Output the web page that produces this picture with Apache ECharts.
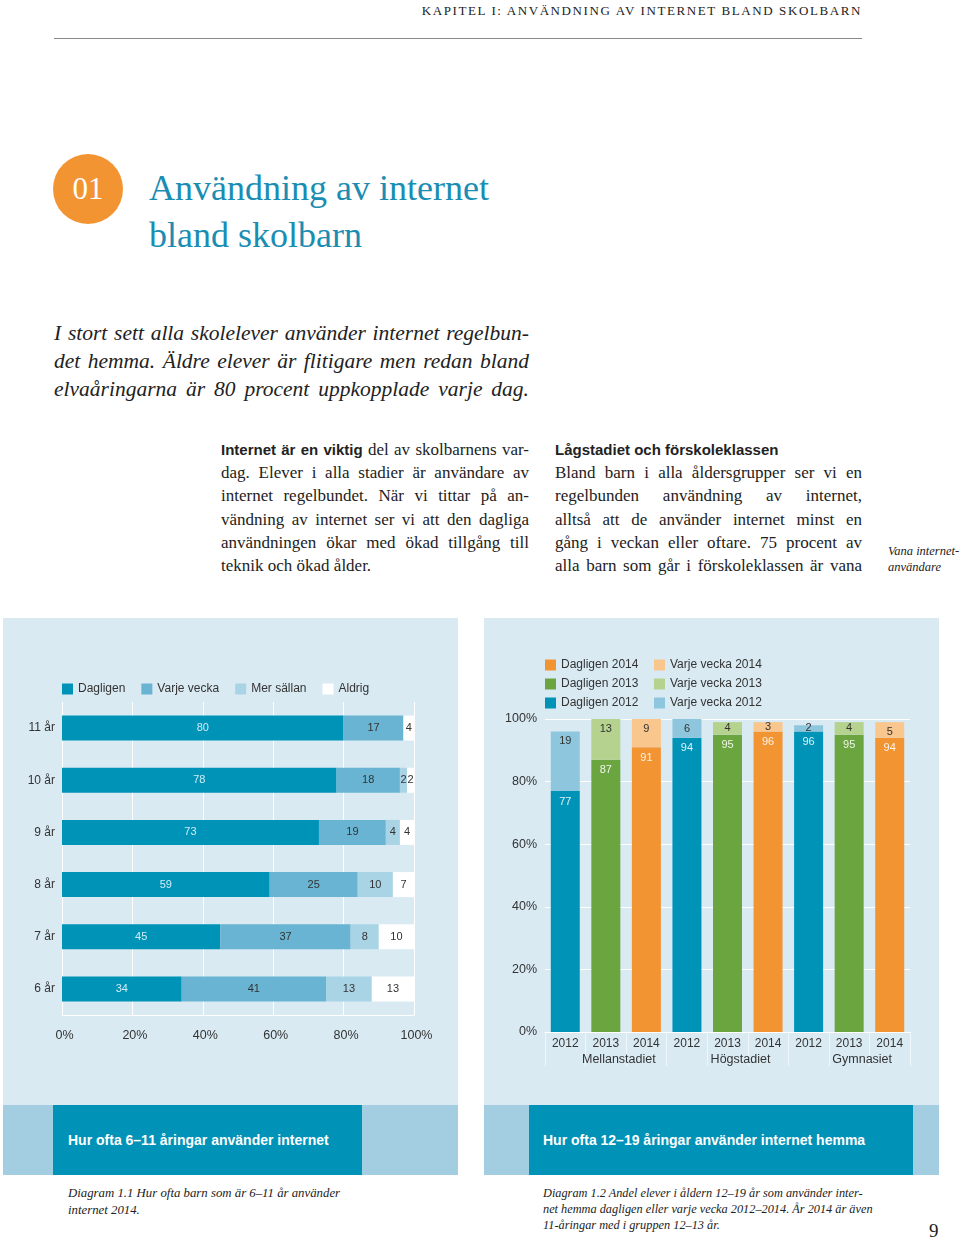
<!DOCTYPE html>
<html><head><meta charset="utf-8">
<script src="https://cdn.jsdelivr.net/npm/echarts@6/dist/echarts.min.js"></script>
<style>
html,body{margin:0;padding:0;background:#fff;}
body{width:960px;height:1241px;position:relative;overflow:hidden;font-family:'Liberation Serif',serif;color:#222;}
.abs{position:absolute;}
.hdr{right:98px;top:3px;font-size:13px;line-height:16px;letter-spacing:1.6px;color:#222;white-space:nowrap;}
.rule{left:54px;top:38px;width:808px;height:0;border-top:1px solid #8a8a8a;}
.circle{left:53px;top:154px;width:70px;height:70px;border-radius:50%;background:#f39433;color:#fff;font-size:31px;line-height:70px;text-align:center;}
.title{left:149px;top:165px;font-size:36px;line-height:47px;color:#1a8db3;white-space:nowrap;}
.intro{left:54px;top:319px;width:475px;font-size:21.5px;line-height:28px;font-style:italic;color:#222;}
.col{top:438px;width:308px;font-size:17px;line-height:23.2px;color:#222;}
.j{text-align:justify;text-align-last:justify;}
.sans{font-family:'Liberation Sans',sans-serif;font-weight:bold;font-size:15px;}
.side{left:888px;top:543px;font-size:12.5px;line-height:16px;font-style:italic;color:#222;white-space:nowrap;}
.chart{top:618px;width:455px;height:487px;}
.strip{top:1105px;height:70px;width:455px;background:#a3cde1;}
.box{top:1105px;height:70px;background:#0092b7;}
.bt{color:#fff;font-family:'Liberation Sans',sans-serif;font-weight:bold;font-size:14px;line-height:70px;white-space:nowrap;}
.cap{top:1185px;font-size:12.8px;line-height:16.5px;font-style:italic;color:#222;white-space:nowrap;}
.pg{left:929px;top:1220px;font-size:19px;line-height:22px;color:#222;}
</style></head><body>

<div class="abs hdr">KAPITEL I: ANVÄNDNING AV INTERNET BLAND SKOLBARN</div>
<div class="abs rule"></div>

<div class="abs circle">01</div>
<div class="abs title">Användning av internet<br>bland skolbarn</div>

<div class="abs intro">
<div class="j">I stort sett alla skolelever använder internet regelbun-</div>
<div class="j">det hemma. Äldre elever är flitigare men redan bland</div>
<div class="j">elvaåringarna är 80 procent uppkopplade varje dag.</div>
</div>

<div class="abs col" style="left:221px;">
<div class="j"><span class="sans">Internet är en viktig</span> del av skolbarnens var-</div>
<div class="j">dag. Elever i alla stadier är användare av</div>
<div class="j">internet regelbundet. När vi tittar på an-</div>
<div class="j">vändning av internet ser vi att den dagliga</div>
<div class="j">användningen ökar med ökad tillgång till</div>
<div>teknik och ökad ålder.</div>
</div>

<div class="abs col" style="left:555px;width:307px;">
<div><span class="sans">Lågstadiet och förskoleklassen</span></div>
<div class="j">Bland barn i alla åldersgrupper ser vi en</div>
<div class="j">regelbunden användning av internet,</div>
<div class="j">alltså att de använder internet minst en</div>
<div class="j">gång i veckan eller oftare. 75 procent av</div>
<div class="j">alla barn som går i förskoleklassen är vana</div>
</div>

<div class="abs side">Vana internet-<br>användare</div>

<div id="c1" class="abs chart" style="left:3px;"></div>
<div id="c2" class="abs chart" style="left:484px;"></div>

<div class="abs strip" style="left:3px;"></div>
<div class="abs box" style="left:53px;width:309px;"></div>
<div class="abs bt" style="left:68px;top:1105px;">Hur ofta 6–11 åringar använder internet</div>

<div class="abs strip" style="left:484px;"></div>
<div class="abs box" style="left:529px;width:384px;"></div>
<div class="abs bt" style="left:543px;top:1105px;">Hur ofta 12–19 åringar använder internet hemma</div>

<div class="abs cap" style="left:68px;">Diagram 1.1 Hur ofta barn som är 6–11 år använder<br>internet 2014.</div>
<div class="abs cap" style="left:543px;line-height:16px;font-size:12.3px;">Diagram 1.2 Andel elever i åldern 12–19 år som använder inter-<br>net hemma dagligen eller varje vecka 2012–2014. År 2014 är även<br>11-åringar med i gruppen 12–13 år.</div>

<div class="abs pg">9</div>

<script>
// ---- Diagram 1.1 data ----
const ages = ['11 år', '10 år', '9 år', '8 år', '7 år', '6 år'];
const freqNames = ['Dagligen', 'Varje vecka', 'Mer sällan', 'Aldrig'];
const dagligen = [80, 78, 73, 59, 45, 34];
const varjeVecka = [17, 18, 19, 25, 37, 41];
const merSallan = [0, 2, 4, 10, 8, 13];
const aldrig = [4, 2, 4, 7, 10, 13];

// ---- Diagram 1.2 data ----
const stages = ['Mellanstadiet', 'Högstadiet', 'Gymnasiet'];
const years = ['2012', '2013', '2014'];
const daily2012 = [77, 94, 96];
const daily2013 = [87, 95, 95];
const daily2014 = [91, 96, 94];
const weekly2012 = [19, 6, 2];
const weekly2013 = [13, 4, 4];
const weekly2014 = [9, 3, 5];

const FONT = 'Liberation Sans';

// ---------- Chart 1 ----------
const c1 = echarts.init(document.getElementById('c1'));
const leftColors = ['#0093b8', '#68b4d2', '#a9d4e6', '#ffffff'];
const leftData = [dagligen, varjeVecka, merSallan, aldrig];
c1.setOption({
  backgroundColor: '#d9eaf3',
  animation: false,
  textStyle: { fontFamily: FONT },
  legend: {
    data: freqNames, left: 54, top: 60, itemWidth: 11, itemHeight: 11, itemGap: 16, icon: 'rect',
    textStyle: { fontSize: 12, color: '#333', fontFamily: FONT }
  },
  grid: { left: 59, top: 84, width: 352, height: 313 },
  xAxis: {
    type: 'value', min: 0, max: 100, interval: 20,
    axisLabel: { formatter: '{value}%', color: '#333', fontSize: 12.5, margin: 14, fontFamily: FONT, padding: [0, 0, 0, 5] },
    splitLine: { lineStyle: { color: '#ffffff', width: 1 } },
    axisLine: { show: true, lineStyle: { color: '#ffffff' } },
    axisTick: { show: false }
  },
  yAxis: {
    type: 'category', data: ages, inverse: true,
    axisLine: { show: false }, axisTick: { show: false },
    axisLabel: { color: '#333', fontSize: 12, margin: 7, fontFamily: FONT }
  },
  series: freqNames.map((n, i) => ({
    name: n, type: 'bar', stack: 't', barWidth: 25, data: leftData[i],
    itemStyle: { color: leftColors[i] },
    label: {
      show: true, position: 'inside', fontSize: 11, fontFamily: FONT,
      color: i === 0 ? '#d2ecf5' : '#333',
      formatter: p => p.value ? String(p.value) : ''
    }
  }))
});

// ---------- Chart 2 ----------
const c2 = echarts.init(document.getElementById('c2'));
const yearColors = {
  '2012': ['#0093b8', '#8ec6dd'],
  '2013': ['#6ba540', '#b5d28f'],
  '2014': ['#f39433', '#f9c78d']
};
const dailyByYear = { '2012': daily2012, '2013': daily2013, '2014': daily2014 };
const weeklyByYear = { '2012': weekly2012, '2013': weekly2013, '2014': weekly2014 };
const catKeys = [];
stages.forEach(s => years.forEach(y => catKeys.push(s + '|' + y)));

function spread(vals, yi, weekly) {
  return catKeys.map((k, ci) => {
    const s = Math.floor(ci / 3), y = ci % 3;
    if (y !== yi) return '-';
    const v = vals[s];
    if (!weekly) return v;
    return { value: v, label: { position: v <= 4 ? 'inside' : 'insideTop' } };
  });
}

const order = ['2014', '2013', '2012'];
const series2 = [];
order.forEach(y => {
  series2.push({
    name: 'Dagligen ' + y, type: 'bar', stack: 's', barWidth: 29,
    data: spread(dailyByYear[y], years.indexOf(y), false),
    itemStyle: { color: yearColors[y][0] },
    label: { show: true, position: 'insideTop', distance: 5, fontSize: 11, fontFamily: FONT, color: 'rgba(255,255,255,0.88)' }
  });
});
order.forEach(y => {
  series2.push({
    name: 'Varje vecka ' + y, type: 'bar', stack: 's', barWidth: 29,
    data: spread(weeklyByYear[y], years.indexOf(y), true),
    itemStyle: { color: yearColors[y][1] },
    label: { show: true, position: 'insideTop', distance: 4, fontSize: 11, fontFamily: FONT, color: '#333' }
  });
});

const legendCommon = {
  orient: 'vertical', top: 36, itemWidth: 11, itemHeight: 11, itemGap: 7, icon: 'rect',
  textStyle: { fontSize: 12, color: '#333', fontFamily: FONT }
};
c2.setOption({
  backgroundColor: '#d9eaf3',
  animation: false,
  textStyle: { fontFamily: FONT },
  legend: [
    Object.assign({ left: 56, data: order.map(y => 'Dagligen ' + y) }, legendCommon),
    Object.assign({ left: 165, data: order.map(y => 'Varje vecka ' + y) }, legendCommon)
  ],
  grid: { left: 61, top: 101, width: 365, height: 313 },
  xAxis: {
    type: 'category', data: catKeys,
    axisLine: { show: true, lineStyle: { color: '#ffffff' } },
    axisTick: { show: true, interval: 0, length: 34, lineStyle: { color: 'rgba(255,255,255,0.6)' } },
    axisLabel: {
      interval: 0, color: '#333', fontSize: 12, margin: 4, lineHeight: 16, fontFamily: FONT,
      formatter: (v, i) => {
        const y = v.split('|')[1];
        return (i % 3 === 1) ? y + '\n{g|' + v.split('|')[0] + '}' : y;
      },
      rich: { g: { fontSize: 12.5, lineHeight: 16, color: '#333', fontFamily: FONT, padding: [0, 0, 0, 26] } }
    }
  },
  yAxis: {
    type: 'value', min: 0, max: 100, interval: 20,
    axisLabel: { formatter: '{value}%', color: '#333', fontSize: 12.5, margin: 8, fontFamily: FONT },
    splitLine: { lineStyle: { color: '#ffffff', width: 1 } },
    axisLine: { show: false }, axisTick: { show: false }
  },
  series: series2
});
</script>
</body></html>
